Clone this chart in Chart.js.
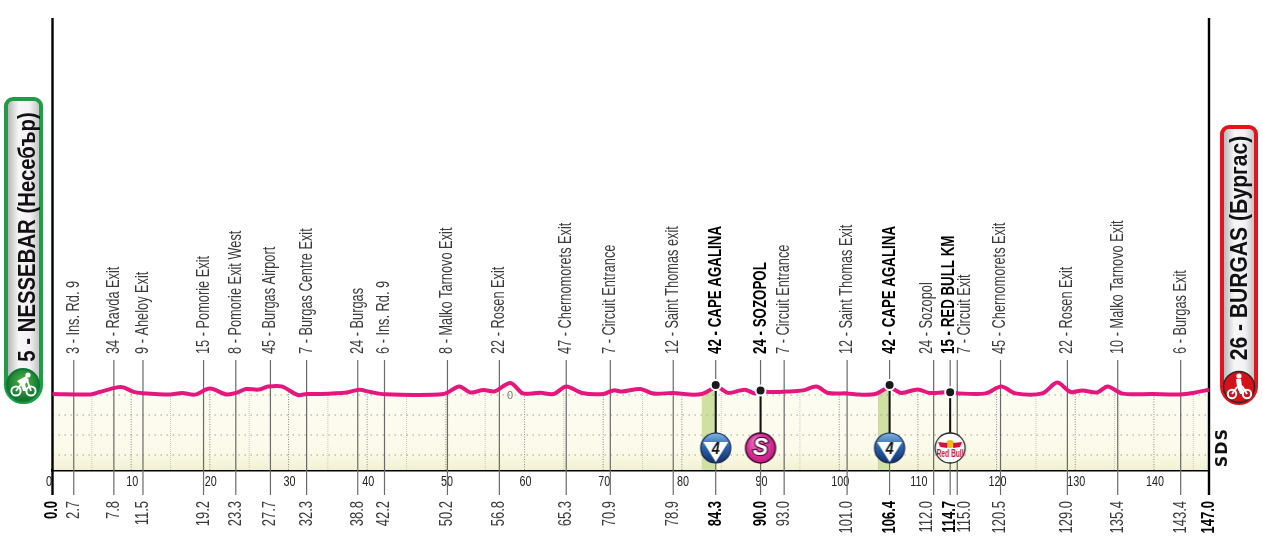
<!DOCTYPE html>
<html>
<head>
<meta charset="utf-8">
<title>Stage profile</title>
<script src="https://cdn.jsdelivr.net/npm/chart.js@4"></script>
<style>
  html, body { margin: 0; padding: 0; background: #fff; }
  #wrap { position: relative; width: 1262px; height: 556px; overflow: hidden; }
  canvas { position: absolute; left: 0; top: 0; }
  .town { position: absolute; box-sizing: border-box; border-style: solid; border-width: 4px;
          background: linear-gradient(90deg, #b9b9bd 0%, #f7f7f8 35%, #f2f2f3 70%, #c4c4c8 100%);
          border-radius: 9px 9px 19px 19px; }
  .town span { position: absolute; writing-mode: vertical-rl;
               font: bold 23px "Liberation Sans", sans-serif; color: #111; white-space: nowrap; }
  .bike { position: absolute; }
  #zero { position: absolute; left: 507px; top: 389px; font: 11px "Liberation Sans", sans-serif; color: #777; }
  #sds { position: absolute; left: 1212px; top: 428px; writing-mode: vertical-rl; transform: rotate(180deg);
         font: bold 16px "DejaVu Sans", sans-serif; letter-spacing: 1px; color: #111; }
</style>
</head>
<body>
<div id="wrap">
  <canvas id="profile" width="1262" height="556"></canvas>
  <div class="town" style="left:4px;top:97px;width:39px;height:307px;border-color:#1f9c45;">
    <span style="left:6px;top:136px;transform:translateY(-50%) rotate(180deg) scaleY(.885);">5 - NESSEBAR (Несебър)</span>
  </div>
  <svg class="bike" style="left:6px;top:368px;" width="34" height="34" viewBox="0 0 34 34">
    <defs><radialGradient id="gg" cx="50%" cy="40%" r="60%"><stop offset="0" stop-color="#4fb648"/><stop offset="1" stop-color="#0b6b2c"/></radialGradient></defs>
    <circle cx="17" cy="17" r="16" fill="url(#gg)" stroke="#0c7a33" stroke-width="2"/>
    <circle cx="10" cy="23" r="4.6" fill="none" stroke="#fff" stroke-width="2"/>
    <circle cx="25" cy="23" r="4.6" fill="none" stroke="#fff" stroke-width="2"/>
    <path d="M11 13 L20 8 L23 12 L19 16 L21 23 L17 23 L15 17 Z" fill="#fff"/>
    <path d="M10 23 L16 15 M21 12 L25 23" fill="none" stroke="#fff" stroke-width="2"/>
    <circle cx="22" cy="7" r="2.6" fill="#fff"/>
  </svg>
  <div class="town" style="left:1220px;top:125px;width:38px;height:280px;border-color:#e3141c;">
    <span style="left:2px;top:119px;transform:translateY(-50%) rotate(180deg) scaleY(.915);">26 - BURGAS (Бургас)</span>
  </div>
  <svg class="bike" style="left:1222px;top:370px;" width="34" height="34" viewBox="0 0 34 34">
    <circle cx="17" cy="17" r="15.5" fill="#d3121a" stroke="#2a2a2a" stroke-width="1.5"/>
    <circle cx="10" cy="24" r="4.2" fill="none" stroke="#fff" stroke-width="2"/>
    <circle cx="25" cy="24" r="4.2" fill="none" stroke="#fff" stroke-width="2"/>
    <path d="M14 9 L19 9 L20 16 L22 24 L18 24 L15 17 Z" fill="#fff"/>
    <path d="M10 24 L15 17 M20 16 L25 24" fill="none" stroke="#fff" stroke-width="2"/>
    <circle cx="17" cy="6" r="2.6" fill="#fff"/>
  </svg>
  <div id="zero">0</div>
  <div id="sds">SDS</div>
</div>
<script>
// km and metres
const routeKm = [0, 4.8, 6.0, 8.2, 9.0, 10.3, 11.5, 14.9, 16.5, 18.1, 20.0, 22.1, 23.4, 24.6, 26.2, 27.4, 29.1, 31.2, 32.3,
  34.0, 37.4, 39.0, 40.4, 42.3, 49.7, 51.7, 53.1, 54.8, 56.2, 58.2, 59.8, 62.0, 63.7, 65.3, 67.3, 70.0, 71.3, 72.4, 74.7,
  76.4, 78.9, 81.0, 82.5, 83.8, 84.3, 85.1, 85.9, 88.0, 89.3, 90.0, 91.0, 93.3, 95.4, 97.1, 98.6, 101.0, 102.6, 104.6,
  105.8, 106.4, 107.1, 107.9, 110.0, 111.5, 114.1, 115.2, 118.6, 120.6, 122.4, 125.8, 127.7, 129.4, 130.9, 132.8, 134.1,
  136.0, 139.8, 143.3, 145.3, 147.0];
const routeElev = [5, 3, 15, 38, 38, 16, 9, 2, 10, 2, 32, 3, 11, 30, 27, 42, 43, 0, 5,
  5, 13, 26, 15, 4, 5, 43, 13, 25, 18, 60, 8, 11, 5, 42, 10, 5, 23, 17, 30,
  7, 10, 2, 5, 30, 42, 28, 10, 26, 8, 24, 15, 17, 23, 42, 10, 8, 2, 5,
  30, 42, 25, 10, 28, 10, 15, 8, 8, 42, 8, 8, 62, 15, 23, 13, 43,
  7, 5, 3, 13, 26];

// leader lines, the name above and the running distance below
// (the red bull km leader sits at 114.1 in the picture, spread away from 115.0)
const pointKm = [2.7, 7.8, 11.5, 19.2, 23.3, 27.7, 32.3, 38.8, 42.2, 50.2, 56.8, 65.3, 70.9, 78.9, 84.3, 90.0, 93.0, 101.0,
  106.4, 112.0, 114.1, 115.0, 120.5, 129.0, 135.4, 143.4];
const pointNames = ['3 - Ins. Rd. 9', '34 - Ravda Exit', '9 - Aheloy Exit', '15 - Pomorie Exit', '8 - Pomorie Exit West',
  '45 - Burgas Airport', '7 - Burgas Centre Exit', '24 - Burgas', '6 - Ins. Rd. 9', '8 - Malko Tarnovo Exit', '22 - Rosen Exit',
  '47 - Chernomorets Exit', '7 - Circuit Entrance', '12 - Saint Thomas exit', '42 - CAPE AGALINA', '24 - SOZOPOL',
  '7 - Circuit Entrance', '12 - Saint Thomas Exit', '42 - CAPE AGALINA', '24 - Sozopol', '15 - RED BULL KM', '7 - Circuit Exit',
  '45 - Chernomorets Exit', '22 - Rosen Exit', '10 - Malko Tarnovo Exit', '6 - Burgas Exit'];
const boldNames = ['42 - CAPE AGALINA', '24 - SOZOPOL', '15 - RED BULL KM'];
const distanceLabels = ['0.0', '2.7', '7.8', '11.5', '19.2', '23.3', '27.7', '32.3', '38.8', '42.2', '50.2', '56.8', '65.3', '70.9',
  '78.9', '84.3', '90.0', '93.0', '101.0', '106.4', '112.0', '114.7', '115.0', '120.5', '129.0', '135.4', '143.4', '147.0'];
const boldDistances = ['0.0', '84.3', '90.0', '106.4', '114.7', '147.0'];
const kmTicks = [0, 10, 20, 30, 40, 50, 60, 70, 80, 90, 100, 110, 120, 130, 140];

// climbs, sprint and red bull km
const climbOneKm = [82.5, 83.8, 84.3];
const climbOneElev = [5, 30, 42];
const climbTwoKm = [104.9, 105.8, 106.4];
const climbTwoElev = [8, 30, 42];
const markerKm = [84.3, 90.0, 106.4, 114.1];
const markerElev = [50, 22, 50, 14];
const badgeElev = -265;

const gridKm = [5, 10, 15, 20, 25, 30, 35, 40, 45, 50, 55, 60, 65, 70, 75, 80, 85, 90, 95, 100, 105, 110, 115, 120, 125, 130, 135, 140, 145];
const gridLevels = [0, -100, -200, -300];

// labels that are pushed sideways so they dont collide
const nudgeKm = { '112.0': -0.8, '114.1': -0.15, '114.7': -0.65, '115.0': 0.95 };
const yMin = -375, yMax = 200, leaderTop = 175, spineTop = 1885, leaderBottom = -500;

const pink = '#e5177f';
const labelFont = '"Liberation Sans", sans-serif';
const narrowNames = 0.71, narrowBoldNames = 0.74, narrowNumbers = 0.72;

function xy(xs, ys) {
    return xs.map((x, i) => ({ x: x, y: ys[i] }));
}
const route = xy(routeKm, routeElev);

function nudged(label) {
    return parseFloat(label) + (nudgeKm[label] || 0);
}

function circleBadge(draw) {
    const c = document.createElement('canvas');
    c.width = 34; c.height = 34;
    const g = c.getContext('2d');
    draw(g);
    return c;
}

const komBadge = () => circleBadge(g => {
    const grad = g.createLinearGradient(0, 2, 0, 32);
    grad.addColorStop(0, '#7fb4e2');
    grad.addColorStop(0.45, '#2b66ad');
    grad.addColorStop(1, '#12306f');
    g.beginPath(); g.arc(17, 17, 15, 0, Math.PI * 2);
    g.fillStyle = grad; g.fill();
    g.lineWidth = 1.2; g.strokeStyle = '#10204a'; g.stroke();
    g.beginPath(); g.moveTo(4.5, 11); g.lineTo(29.5, 11); g.lineTo(17, 31); g.closePath();
    g.fillStyle = '#fff'; g.fill();
    g.fillStyle = '#111';
    g.font = 'italic bold 17px ' + labelFont;
    g.textAlign = 'center'; g.textBaseline = 'middle';
    g.fillText('4', 17, 18, 8);
});

const sprintBadge = () => circleBadge(g => {
    const grad = g.createRadialGradient(13, 10, 3, 17, 17, 16);
    grad.addColorStop(0, '#f06ac0');
    grad.addColorStop(1, '#c3127f');
    g.beginPath(); g.arc(17, 17, 15, 0, Math.PI * 2);
    g.fillStyle = grad; g.fill();
    g.lineWidth = 1.4; g.strokeStyle = '#3a0a2a'; g.stroke();
    g.font = 'italic bold 23px ' + labelFont;
    g.textAlign = 'center'; g.textBaseline = 'middle';
    g.lineWidth = 2.4; g.strokeStyle = '#4a0f35';
    g.strokeText('S', 17, 18);
    g.fillStyle = '#fff';
    g.fillText('S', 17, 18);
});

const redBullBadge = () => circleBadge(g => {
    g.beginPath(); g.arc(17, 17, 15, 0, Math.PI * 2);
    g.fillStyle = '#fff'; g.fill();
    g.lineWidth = 1.3; g.strokeStyle = '#222'; g.stroke();
    g.beginPath(); g.arc(17, 13, 4, 0, Math.PI * 2);
    g.fillStyle = '#f5b91c'; g.fill();
    g.fillStyle = '#d5103f';
    g.beginPath(); g.moveTo(5, 11); g.lineTo(14, 12); g.lineTo(14, 17); g.lineTo(7, 16); g.closePath(); g.fill();
    g.beginPath(); g.moveTo(29, 11); g.lineTo(20, 12); g.lineTo(20, 17); g.lineTo(27, 16); g.closePath(); g.fill();
    g.font = 'bold 11px ' + labelFont;
    g.textAlign = 'center'; g.textBaseline = 'middle';
    g.fillText('Red Bull', 17, 23, 27);
});

const badges = [komBadge(), sprintBadge(), komBadge(), redBullBadge()];

function creamFill(ctx) {
    const area = ctx.chart.chartArea;
    if (!area) return '#fbfaec';
    const g = ctx.chart.ctx.createLinearGradient(0, 392, 0, area.bottom);
    g.addColorStop(0, '#fdfcf2');
    g.addColorStop(0.75, '#fbfaea');
    g.addColorStop(1, '#f3f1d2');
    return g;
}

const plainLine = { pointRadius: 0, pointHitRadius: 0, fill: false, tension: 0 };
const datasets = [];

datasets.push({ ...plainLine, label: 'ground', data: route, borderWidth: 0, tension: 0.3, fill: 'start', backgroundColor: creamFill, order: 100 });
datasets.push({ ...plainLine, label: 'climb 1', data: xy(climbOneKm, climbOneElev), borderWidth: 0, fill: 'start', backgroundColor: '#cfe0a2', order: 90 });
datasets.push({ ...plainLine, label: 'climb 2', data: xy(climbTwoKm, climbTwoElev), borderWidth: 0, fill: 'start', backgroundColor: '#cfe0a2', order: 90 });

gridLevels.forEach(level => {
    datasets.push({ ...plainLine, label: 'level ' + level, data: [{ x: 0, y: level }, { x: 147, y: level }],
        borderColor: '#a3a295', borderWidth: 1, borderDash: [1.5, 4.5], order: 80 });
});
gridKm.forEach(km => {
    const major = km % 10 === 0;
    datasets.push({ ...plainLine, label: 'km ' + km, data: [{ x: km, y: yMin }, { x: km, y: yMax }],
        borderColor: major ? '#8f8e82' : '#c9c8b4', borderWidth: 1, borderDash: major ? [1, 1.5] : [1, 1], order: 80 });
});

// white over everything above the road
datasets.push({ ...plainLine, label: 'sky', data: route, borderWidth: 0, tension: 0.3, fill: 'end', backgroundColor: '#fff', order: 70 });

pointKm.forEach(km => {
    datasets.push({ ...plainLine, label: 'leader ' + km, data: [{ x: km, y: leaderTop }, { x: km, y: leaderBottom }],
        borderColor: '#6a6a6a', borderWidth: 1.2, clip: false, order: 60 });
});
[0, 147].forEach(km => {
    datasets.push({ ...plainLine, label: 'spine ' + km, data: [{ x: km, y: spineTop }, { x: km, y: leaderBottom }],
        borderColor: '#000', borderWidth: 2.4, clip: false, order: 55 });
});
markerKm.forEach((km, i) => {
    datasets.push({ ...plainLine, label: 'stem ' + km, data: [{ x: km, y: markerElev[i] }, { x: km, y: badgeElev }],
        borderColor: '#111', borderWidth: 2, order: 40 });
});

datasets.push({ ...plainLine, label: 'route', data: route, borderColor: pink, borderWidth: 4, tension: 0.3, clip: false, order: 30 });
datasets.push({ label: 'markers', data: xy(markerKm, markerElev), showLine: false, pointRadius: 5, pointBackgroundColor: '#1a1a1a',
    pointBorderColor: '#fff', pointBorderWidth: 2, clip: false, order: 20 });
datasets.push({ label: 'badges', data: markerKm.map(km => ({ x: km, y: badgeElev })), showLine: false, pointRadius: 17,
    pointStyle: badges, order: 10 });

function fixedHeight(h) {
    return axis => {
        axis.height = h;
        axis.paddingLeft = 0; axis.paddingRight = 0; axis.paddingTop = 0; axis.paddingBottom = 0;
    };
}

// no narrow font on the box, so squeeze the labels with fillText's maxWidth
const ctx = document.getElementById('profile').getContext('2d');
const fillText = ctx.fillText.bind(ctx);
ctx.fillText = (text, x, y) => {
    let squeeze = narrowNumbers;
    if (String(text).includes(' - ')) squeeze = boldNames.includes(text) ? narrowBoldNames : narrowNames;
    fillText(text, x, y, ctx.measureText(text).width * squeeze);
};

new Chart(ctx, {
    type: 'line',
    data: { datasets: datasets },
    options: {
        responsive: false,
        animation: false,
        events: [],
        layout: { padding: { left: 52.5, right: 53, top: 18, bottom: 0 } },
        plugins: { legend: { display: false }, tooltip: { enabled: false }, title: { display: false } },
        scales: {
            y: { type: 'linear', display: false, min: yMin, max: yMax },
            x: {
                type: 'linear', position: 'bottom', weight: 0, min: 0, max: 147,
                grid: { display: false },
                border: { display: true, color: '#000', width: 2.4 },
                afterBuildTicks: axis => { axis.ticks = kmTicks.map(k => ({ value: k === 0 ? -0.45 : k + 0.13 })); },
                afterFit: fixedHeight(31),
                ticks: {
                    autoSkip: false, maxRotation: 0, minRotation: 0, padding: -5,
                    color: '#222',
                    font: { family: labelFont, size: 15 },
                    callback: (v, i) => String(kmTicks[i])
                }
            },
            distance: {
                type: 'linear', axis: 'x', position: 'bottom', weight: 1, min: 0, max: 147,
                grid: { display: false },
                border: { display: false },
                afterBuildTicks: axis => { axis.ticks = distanceLabels.map(l => ({ value: nudged(l) })); },
                afterFit: fixedHeight(55),
                ticks: {
                    autoSkip: false, minRotation: 90, maxRotation: 90, padding: -8,
                    color: ctx => boldDistances.includes(distanceLabels[ctx.index]) ? '#000' : '#3a3a3a',
                    font: ctx => ({
                        family: labelFont, size: 18, lineHeight: 1.2,
                        weight: boldDistances.includes(distanceLabels[ctx.index]) ? 'bold' : 'normal'
                    }),
                    callback: (v, i) => distanceLabels[i]
                }
            },
            names: {
                type: 'linear', axis: 'x', position: 'top', min: 0, max: 147,
                grid: { display: false },
                border: { display: false },
                afterBuildTicks: axis => {
                    axis.ticks = pointKm.map(km => ({ value: km + (nudgeKm[km.toFixed(1)] || 0) }));
                },
                afterFit: fixedHeight(337),
                ticks: {
                    autoSkip: false, minRotation: 90, maxRotation: 90, padding: -7, labelOffset: 21.6,
                    color: ctx => boldNames.includes(pointNames[ctx.index]) ? '#000' : '#3a3a3a',
                    font: ctx => ({
                        family: labelFont, size: 18, lineHeight: 1.2,
                        weight: boldNames.includes(pointNames[ctx.index]) ? 'bold' : 'normal'
                    }),
                    callback: (v, i) => pointNames[i]
                }
            }
        }
    }
});
</script>
</body>
</html>
